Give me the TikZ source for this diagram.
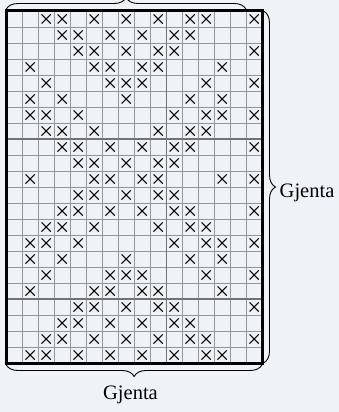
\documentclass[tikz,border=0pt]{standalone}
\usepackage{fontspec}
\setmainfont{Liberation Serif}
\usetikzlibrary{decorations.pathreplacing}
\definecolor{bg}{RGB}{239,242,246}
\definecolor{gridc}{RGB}{150,150,150}
\definecolor{sepc}{RGB}{115,115,115}
\tikzset{
  gridline/.style={draw=gridc, line width=0.8pt},
  sepline/.style={draw=sepc, line width=1.1pt},
  border/.style={draw=black, line width=3pt},
  xmark/.style={draw=black, line width=1.1pt},
  bracestyle/.style={draw=black, line width=0.9pt, decorate, decoration={brace, amplitude=12pt}},
  lbl/.style={inner sep=0pt, font=\fontsize{20.5}{24}\selectfont}
}
\begin{document}
\begin{tikzpicture}[x=1pt,y=-1pt]
\fill[bg] (0,0) rectangle (339,412);
\useasboundingbox (0,0) rectangle (339,412);
% grid corners
\coordinate (tl) at (6.2,11);
\coordinate (tr) at (262.2,11);
\coordinate (bl) at (6.2,363);
\coordinate (br) at (262.2,363);
% thin grid lines
\foreach \i in {1,...,15} \draw[gridline] ({6.2+16*\i},11) -- ++(0,352);
\foreach \j in {1,...,21} \draw[gridline] (6.2,{11+16*\j}) -- ++(256,0);
% separators
\draw[sepline] (166.2,11) -- (166.2,363);
\draw[sepline] (6.2,139) -- (262.2,139);
\draw[sepline] (6.2,299) -- (262.2,299);
% crosses
\foreach \r/\cs in {
  0/{2,3,5,7,9,11,12,15},
  1/{3,4,6,8,10,11},
  2/{4,5,7,9,10,15},
  3/{1,5,6,8,9,13},
  4/{2,6,7,8,12,15},
  5/{1,3,7,11,13},
  6/{1,2,4,10,12,13,15},
  7/{2,3,5,9,11,12},
  8/{3,4,6,8,10,11,15},
  9/{4,5,7,9,10},
  10/{1,5,6,8,9,13,15},
  11/{4,5,7,9,10},
  12/{3,4,6,8,10,11,15},
  13/{2,3,5,9,11,12},
  14/{1,2,4,10,12,13,15},
  15/{1,3,7,11,13},
  16/{2,6,7,8,12,15},
  17/{1,5,6,8,9,13},
  18/{4,5,7,9,10,15},
  19/{3,4,6,8,10,11},
  20/{2,3,5,7,9,11,12,15},
  21/{1,2,4,6,8,10,12,13}}{
  \foreach \c in \cs {
    \draw[xmark] ({14.2+16*\c-4.6},{19+16*\r-4.6}) -- ++(9.2,9.2)
                 ({14.2+16*\c+4.6},{19+16*\r-4.6}) -- ++(-9.2,9.2);
  }
}
% outer border
\draw[border] (tl) rectangle (br);
% braces
\coordinate (tb1) at (6,9.5);
\coordinate (tb2) at (246.2,9.5);
\coordinate (bb1) at (262.2,364.5);
\coordinate (bb2) at (6,364.5);
\coordinate (rb1) at (263.5,11);
\coordinate (rb2) at (263.5,363);
\draw[bracestyle] (tb1) -- (tb2);
\draw[bracestyle] (bb1) -- (bb2);
\draw[bracestyle] (rb1) -- (rb2);
% labels
\node[lbl, anchor=base west] (rlabel) at (279.5,197.7) {Gjenta};
\node[lbl, anchor=base] (blabel) at (130.5,399.3) {Gjenta};
\end{tikzpicture}
\end{document}
